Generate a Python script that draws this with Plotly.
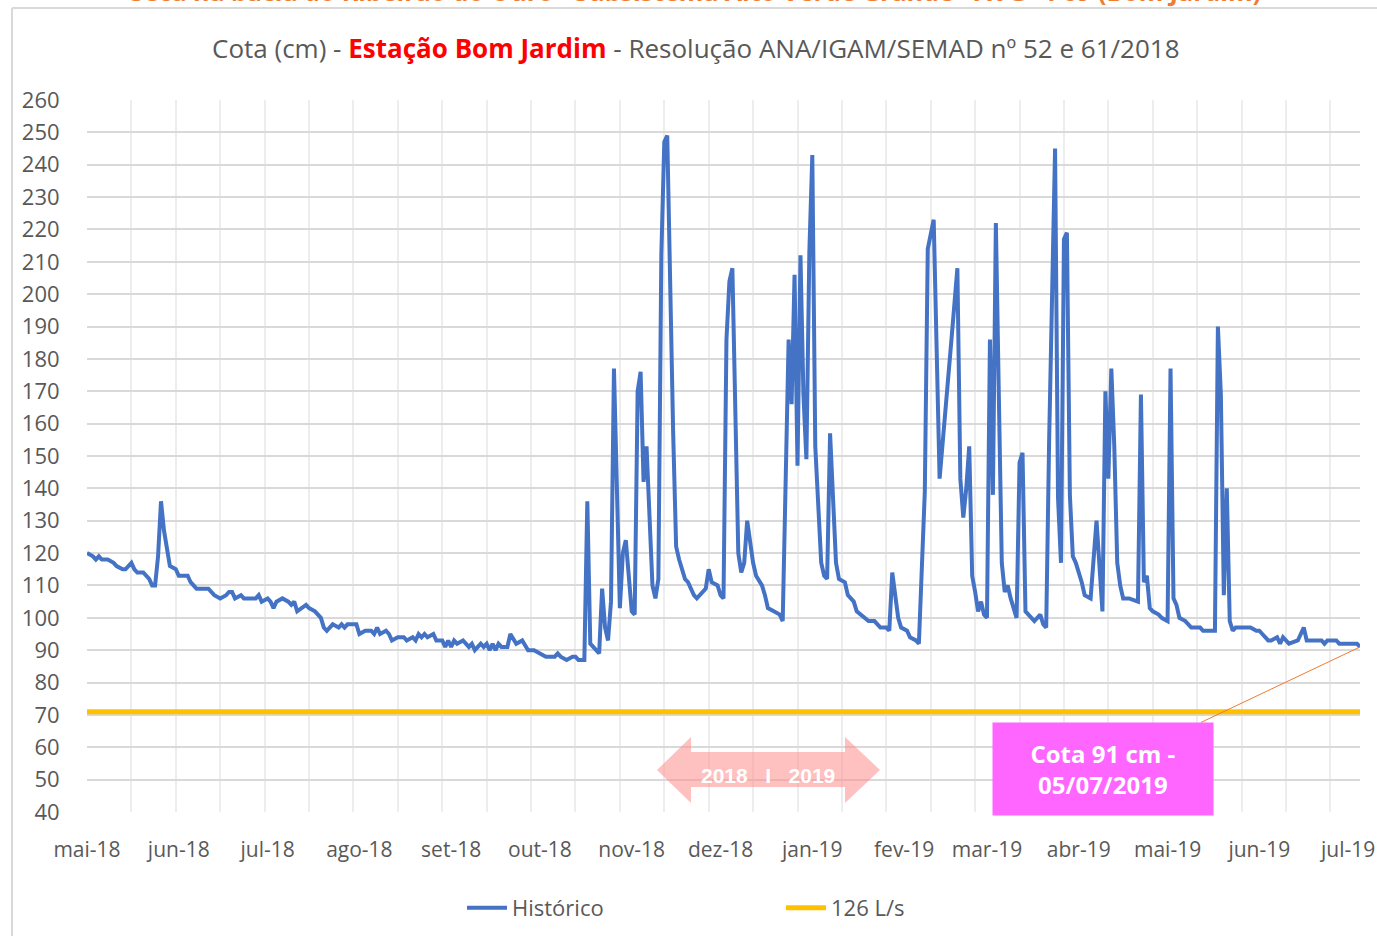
import pandas as pd
import plotly.graph_objects as go

# ---------------- data ----------------
start_date = "2018-05-01"
day_offset = [0, 2, 3, 4, 5, 7, 9, 10, 12, 13, 15, 16, 17, 19, 21, 22, 23, 24, 25, 26, 28, 30, 31, 34, 35, 37,
              41, 43, 45, 47, 48, 49, 50, 52, 53, 57, 58, 59, 61, 62, 63, 64, 66, 68, 69, 70, 71, 74, 75, 77, 79,
              80, 81, 83, 85, 86, 87, 88, 90, 91, 92, 94, 96, 97, 98, 99, 101, 102, 103, 105, 107, 108, 110, 111,
              112, 113, 114, 115, 117, 118, 120, 121, 122, 123, 124, 125, 127, 128, 129, 130, 131, 133, 134, 135,
              136, 137, 138, 139, 140, 142, 143, 145, 147, 149, 151, 153, 155, 158, 159, 160, 162, 164, 165, 166,
              168, 169, 170, 173, 174, 175, 176, 177, 178, 180, 181, 182, 184, 185, 186, 187, 188, 189, 191, 192,
              193, 194, 195, 196, 197, 198, 199, 200, 202, 203, 205, 206, 209, 210, 211, 213, 214, 215, 216, 217,
              218, 219, 220, 221, 222, 223, 225, 226, 228, 229, 230, 232, 234, 235, 237, 238, 239, 240, 241, 242,
              243, 244, 245, 246, 248, 249, 250, 251, 253, 254, 256, 257, 259, 260, 263, 264, 266, 268, 270, 271,
              272, 274, 275, 277, 278, 280, 281, 283, 284, 286, 288, 290, 292, 294, 295, 296, 297, 298, 299, 300,
              301, 302, 303, 304, 305, 306, 307, 308, 309, 310, 311, 312, 314, 315, 316, 317, 319, 320, 322, 323,
              324, 325, 327, 328, 329, 330, 331, 332, 333, 334, 336, 337, 339, 341, 343, 344, 345, 346, 347, 348,
              349, 350, 352, 355, 356, 357, 358, 359, 360, 362, 363, 365, 366, 367, 368, 369, 371, 373, 376, 377,
              381, 382, 383, 384, 385, 386, 387, 388, 390, 393, 395, 396, 397, 399, 400, 402, 403, 404, 406, 409,
              411, 412, 417, 418, 419, 422, 423, 429, 430]
cota_cm = [120, 119, 118, 119, 118, 118, 117, 116, 115, 115, 117, 115, 114, 114, 112, 110, 110, 119, 136, 127, 116,
           115, 113, 113, 111, 109, 109, 107, 106, 107, 108, 108, 106, 107, 106, 106, 107, 105, 106, 105, 103, 105,
           106, 105, 104, 105, 102, 104, 103, 102, 100, 97, 96, 98, 97, 98, 97, 98, 98, 98, 95, 96, 96, 95, 97, 95,
           96, 95, 93, 94, 94, 93, 94, 93, 95, 94, 95, 94, 95, 93, 93, 91, 93, 91, 93, 92, 93, 92, 91, 92, 90, 92,
           91, 92, 90, 92, 90, 92, 91, 91, 95, 92, 93, 90, 90, 89, 88, 88, 89, 88, 87, 88, 88, 87, 87, 136, 92, 89,
           109, 97, 93, 105, 177, 103, 120, 124, 102, 101, 170, 176, 142, 153, 110, 106, 112, 212, 247, 249, 195,
           157, 122, 118, 112, 111, 107, 106, 109, 115, 111, 110, 107, 106, 186, 204, 208, 158, 120, 114, 117, 130,
           117, 113, 110, 107, 103, 102, 101, 99, 186, 166, 206, 147, 212, 169, 149, 213, 243, 153, 117, 113, 112,
           157, 117, 112, 111, 107, 105, 102, 100, 99, 99, 97, 97, 96, 114, 100, 97, 96, 94, 93, 92, 139, 214, 223,
           143, 163, 186, 208, 143, 131, 140, 153, 113, 108, 102, 105, 101, 100, 186, 138, 222, 169, 117, 108, 110,
           106, 100, 148, 151, 102, 100, 99, 101, 98, 97, 155, 245, 137, 117, 217, 219, 138, 119, 117, 111, 107,
           106, 130, 102, 170, 143, 177, 153, 117, 110, 106, 106, 105, 169, 111, 113, 103, 102, 101, 100, 99, 177,
           106, 104, 100, 99, 97, 97, 96, 96, 190, 169, 107, 140, 99, 96, 97, 97, 97, 96, 96, 95, 93, 93, 94, 92,
           94, 92, 93, 97, 93, 93, 92, 93, 93, 92, 92, 91]
threshold_cm = 71
threshold_name = "126 L/s"
series_name = "Histórico"
end_date = "2019-07-05"
month_ticks = ["2018-05-01", "2018-06-01", "2018-07-01", "2018-08-01", "2018-09-01", "2018-10-01",
               "2018-11-01", "2018-12-01", "2019-01-01", "2019-02-01", "2019-03-01", "2019-04-01",
               "2019-05-01", "2019-06-01", "2019-07-01"]
month_labels = ["mai-18", "jun-18", "jul-18", "ago-18", "set-18", "out-18", "nov-18", "dez-18",
                "jan-19", "fev-19", "mar-19", "abr-19", "mai-19", "jun-19", "jul-19"]
note_value = 91
note_date_text = "05/07/2019"

dates = pd.Timestamp(start_date) + pd.to_timedelta(day_offset, unit="D")

# ---------------- layout helpers (pixel -> paper) ----------------
W, H = 1377, 936
L, R, T, B = 87, 17, 100, 124
PW, PH = W - L - R, H - T - B


def px(x):
    return (x - L) / PW


def py(y):
    return (H - B - y) / PH


GRAY = "#595959"
FONT = "Open Sans"

fig = go.Figure()
fig.add_trace(go.Scatter(x=dates, y=cota_cm, mode="lines", name=series_name,
                         line=dict(color="#4472C4", width=4)))
fig.add_trace(go.Scatter(x=[start_date, end_date], y=[threshold_cm, threshold_cm], mode="lines",
                         name=threshold_name, line=dict(color="#FFC000", width=5)))

fig.update_layout(
    width=W, height=H,
    margin=dict(l=L, r=R, t=T, b=B, autoexpand=False),
    paper_bgcolor="white", plot_bgcolor="white",
    font=dict(family=FONT, color=GRAY, size=20),
    showlegend=True,
    legend=dict(orientation="h", x=px(462), y=py(887), xanchor="left", yanchor="top",
                entrywidth=264, entrywidthmode="pixels", font=dict(size=22, color=GRAY),
                bgcolor="rgba(0,0,0,0)", itemwidth=40),
)
fig.update_xaxes(
    type="date", range=[start_date, end_date], automargin=False,
    tickmode="array", tickvals=month_ticks, ticktext=month_labels,
    showgrid=False, zeroline=False, showline=False,
    ticks="outside", ticklen=19, tickcolor="rgba(0,0,0,0)",
    tickfont=dict(size=21, color=GRAY),
    minor=dict(tick0=start_date, dtick=15 * 86400000, showgrid=True, gridcolor="#EDEDED",
               gridwidth=1.5, ticks=""),
)
fig.update_yaxes(
    range=[40, 260], dtick=10, tick0=40, automargin=False,
    showgrid=True, gridcolor="#D9D9D9", gridwidth=1.5, zeroline=False, showline=False,
    ticks="outside", ticklen=22, tickcolor="rgba(0,0,0,0)",
    tickfont=dict(size=22, color=GRAY),
)

# frame lines around the chart area
fig.add_shape(type="line", xref="paper", yref="paper", x0=px(12), x1=px(W + 5), y0=py(8), y1=py(8),
              line=dict(color="#D9D9D9", width=2))
fig.add_shape(type="line", xref="paper", yref="paper", x0=px(12), x1=px(12), y0=py(8), y1=py(H + 5),
              line=dict(color="#D9D9D9", width=2))

# cut-off header text at the top
fig.add_annotation(xref="paper", yref="paper", x=px(695), y=py(-9), xanchor="center", yanchor="middle",
                   text="<b>Seca na bacia do Ribeirão do Ouro - Subsistema Alto Verde Grande - AVG - P09 (Bom Jardim)</b>",
                   showarrow=False, font=dict(size=25, color="#ED7D31", family=FONT))

# title
fig.add_annotation(xref="paper", yref="paper", x=px(696), y=py(48), xanchor="center", yanchor="middle",
                   text=("Cota (cm) - <b><span style='color:#FF0000'>Estação Bom Jardim</span></b>"
                         " - Resolução ANA/IGAM/SEMAD nº 52 e 61/2018"),
                   showarrow=False, font=dict(size=26, color=GRAY, family=FONT))

# double arrow 2018 | 2019
pts = [(657, 770), (691, 737), (691, 752), (845, 752), (845, 737), (880, 770),
       (845, 803), (845, 787), (691, 787), (691, 803)]
path = "M " + " L ".join(f"{px(a):.5f},{py(b):.5f}" for a, b in pts) + " Z"
fig.add_shape(type="path", xref="paper", yref="paper", path=path,
              fillcolor="rgba(255,140,140,0.55)", line=dict(width=0))
fig.add_annotation(xref="paper", yref="paper", x=px(768), y=py(775), xanchor="center", yanchor="middle",
                   text="<b>2018   I   2019</b>", showarrow=False,
                   font=dict(size=21, color="white", family="Liberation Sans"))

# callout box
fig.add_annotation(x=end_date, y=note_value, xref="x", yref="y",
                   text=f"<b>Cota {note_value} cm -<br>{note_date_text}</b>",
                   showarrow=True, arrowhead=0, arrowwidth=1, arrowcolor="#ED7D31",
                   axref="pixel", ayref="pixel", ax=-257, ay=122,
                   bgcolor="#FF66FF", width=212, height=84, borderpad=4,
                   font=dict(size=24, color="white", family=FONT), align="center")

fig.write_html(
    "out.html",
    config={"displayModeBar": False},
    post_script=("document.documentElement.style.margin='0';document.documentElement.style.padding='0';"
                 "document.documentElement.style.overflow='hidden';"
                 "document.body.style.margin='0';document.body.style.padding='0';"
                 "document.body.style.overflow='hidden';"),
)
